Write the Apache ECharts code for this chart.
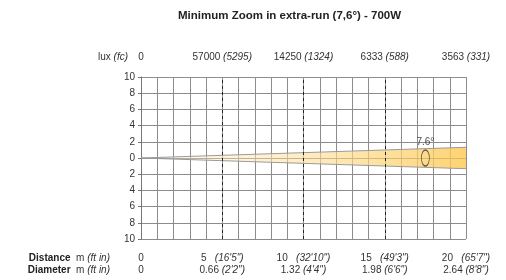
<!DOCTYPE html>
<html>
<head>
<meta charset="utf-8">
<script src="https://cdn.jsdelivr.net/npm/echarts@6/dist/echarts.min.js"></script>
<style>
  html, body { margin: 0; padding: 0; background: #fff; }
  #chart { width: 506px; height: 280px; }
</style>
</head>
<body>
<div id="chart"></div>
<script>
// distances along the beam (m)
const distances = [0, 5, 10, 15, 20];
const distanceFt = ["", "16'5\"", "32'10\"", "49'3\"", "65'7\""];
// beam diameter at each distance (m)
const diameters = [0, 0.66, 1.32, 1.98, 2.64];
const diameterFt = ["", "2'2\"", "4'4\"", "6'6\"", "8'8\""];
// illuminance at each distance
const lux = [0, 57000, 14250, 6333, 3563];
const fc = ["", 5295, 1324, 588, 331];
// beam angle marker
const beamAngle = "7.6°";
const angleMarkAt = 17.5;

const font = "'Liberation Sans', Arial, sans-serif";

const upper = distances.map((d, i) => [d, diameters[i] / 2]);
const lower = distances.map((d, i) => [d, -diameters[i] / 2]);

function labelFor(list, extra, gap) {
  return function (v) {
    const i = distances.indexOf(v);
    if (i < 0) return "";
    const e = extra[i];
    return e === "" ? String(list[i]) : list[i] + gap + "{i|(" + e + ")}";
  };
}

function extraAxis(position, offset, name, fmt) {
  return {
    type: "value",
    position: position,
    offset: offset,
    min: 0,
    max: 20,
    interval: 5,
    name: name,
    nameLocation: "start",
    nameGap: position === "top" ? 13 : 31,
    nameTextStyle: {
      fontFamily: font,
      fontSize: 10,
      color: "#333",
      verticalAlign: "middle",
      rich: {
        b: { fontFamily: font, fontSize: 10, fontWeight: "bold", color: "#222" },
        i: { fontFamily: font, fontSize: 10, fontStyle: "italic", color: "#333" },
      },
    },
    axisLine: { show: false },
    axisTick: { show: false },
    splitLine: { show: false },
    axisLabel: {
      margin: 0,
      verticalAlign: "middle",
      fontFamily: font,
      fontSize: 10,
      color: "#333",
      formatter: fmt,
      rich: {
        i: { fontFamily: font, fontSize: 10, fontStyle: "italic", color: "#333" },
      },
    },
  };
}

const beamFill = new echarts.graphic.LinearGradient(0, 0, 1, 0, [
  { offset: 0, color: "rgba(255,246,228,0.5)" },
  { offset: 1, color: "rgba(253,200,80,1)" },
]);

const myChart = echarts.init(document.getElementById("chart"));
myChart.setOption({
  animation: false,
  title: {
    text: "Minimum Zoom in extra-run (7,6°) - 700W",
    left: 173,
    top: 5,
    textStyle: { fontFamily: font, fontSize: 11.5, fontWeight: "bold", color: "#222" },
  },
  grid: { left: 141, right: 40, top: 77, bottom: 41 },
  xAxis: [
    {
      type: "value",
      position: "bottom",
      min: 0,
      max: 20,
      interval: 1,
      axisLine: { show: true, lineStyle: { color: "#777" } },
      axisTick: { show: false },
      axisLabel: { show: false },
      splitLine: { show: true, lineStyle: { color: "#8c8c8c", width: 1 } },
    },
    extraAxis("top", 20, "lux {i|(fc)}", labelFor(lux, fc, " ")),
    extraAxis("bottom", 19, "{b|Distance}  m {i|(ft in)}", labelFor(distances, distanceFt, "   ")),
    extraAxis("bottom", 31, "{b|Diameter}  m {i|(ft in)}", labelFor(diameters, diameterFt, " ")),
  ],
  yAxis: {
    type: "value",
    min: -10,
    max: 10,
    interval: 2,
    axisLine: { show: true, lineStyle: { color: "#777" } },
    axisTick: { show: true, length: 3, lineStyle: { color: "#777" } },
    axisLabel: {
      fontFamily: font,
      fontSize: 10,
      color: "#333",
      margin: 6,
      formatter: (v) => String(Math.abs(v)),
    },
    splitLine: { show: true, lineStyle: { color: "#8c8c8c", width: 1 } },
  },
  series: [
    {
      type: "line",
      data: upper,
      symbol: "none",
      lineStyle: { color: "#9a9a9a", width: 1 },
      areaStyle: { opacity: 0.8, color: beamFill, origin: 0 },
      markLine: {
        silent: true,
        symbol: "none",
        label: { show: false },
        lineStyle: { color: "#222", type: [3, 3], width: 1 },
        data: distances.slice(1, 4).map((d) => ({ xAxis: d })),
      },
    },
    {
      type: "line",
      data: lower,
      symbol: "none",
      lineStyle: { color: "#9a9a9a", width: 1 },
      areaStyle: { opacity: 0.8, color: beamFill, origin: 0 },
    },
    {
      type: "scatter",
      data: [[angleMarkAt, 0]],
      symbol: "circle",
      symbolSize: [8, 16],
      itemStyle: { color: "rgba(0,0,0,0)", borderColor: "#333", borderWidth: 1 },
      label: {
        show: true,
        position: "top",
        distance: 2,
        formatter: beamAngle,
        fontFamily: font,
        fontSize: 10,
        color: "#222",
      },
      z: 5,
    },
  ],
});
</script>
</body>
</html>
